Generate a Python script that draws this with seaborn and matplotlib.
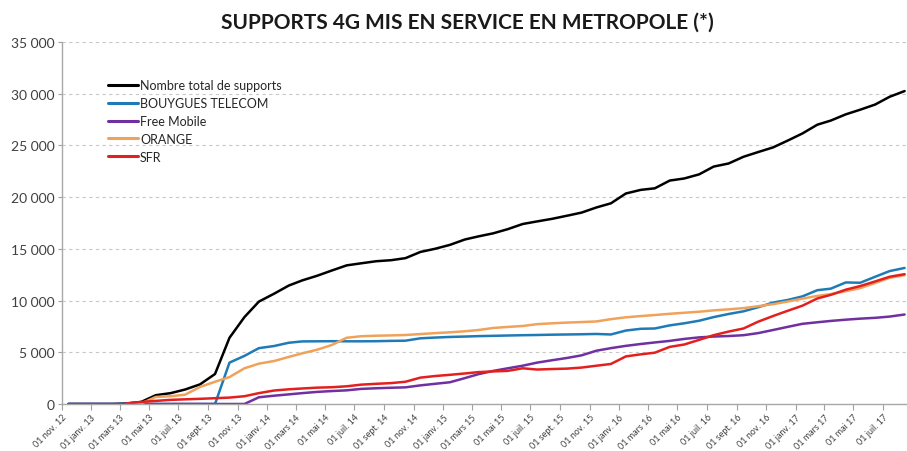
import numpy as np
import pandas as pd
import seaborn as sns
import matplotlib.pyplot as plt
from matplotlib.ticker import FuncFormatter

# Monthly readings (mid-month), Nov 2012 -> Aug 2017
DATES = pd.date_range("2012-11-01", "2017-08-01", freq="MS") + pd.Timedelta(days=14)

TOTAL = [0, 0, 0, 0, 50, 200, 850, 1050, 1400, 1900, 2900, 6400, 8400, 9900,
         10650, 11450, 11950, 12400, 12900, 13400, 13600, 13800, 13900, 14100,
         14700, 15000, 15380, 15900, 16200, 16500, 16900, 17400, 17650, 17900,
         18200, 18500, 19000, 19400, 20350, 20700, 20850, 21600, 21800, 22200,
         22950, 23250, 23900, 24350, 24800, 25450, 26150, 27000, 27400, 28000,
         28450, 28950, 29700, 30250]
BOUYGUES = [0, 0, 0, 0, 0, 0, 0, 0, 0, 0, 0, 4000, 4650, 5400, 5600, 5920,
            6050, 6060, 6070, 6060, 6060, 6070, 6100, 6120, 6350, 6420, 6480,
            6520, 6560, 6590, 6620, 6650, 6670, 6700, 6720, 6740, 6770, 6720,
            7100, 7270, 7300, 7600, 7800, 8050, 8400, 8700, 8960, 9350, 9800,
            10050, 10400, 11000, 11150, 11750, 11720, 12300, 12850, 13150]
FREE = [0, 0, 0, 0, 0, 0, 0, 0, 0, 0, 0, 0, 0, 650, 800, 930, 1050, 1170,
        1250, 1320, 1460, 1520, 1570, 1610, 1800, 1950, 2100, 2500, 2880, 3200,
        3450, 3700, 4000, 4230, 4450, 4700, 5150, 5400, 5620, 5800, 5950, 6100,
        6290, 6440, 6520, 6570, 6650, 6850, 7150, 7450, 7750, 7900, 8030, 8150,
        8250, 8330, 8450, 8650]
ORANGE = [np.nan, np.nan, np.nan, np.nan, 0, 50, 680, 750, 900, 1650, 2150,
          2600, 3450, 3900, 4150, 4550, 4900, 5250, 5700, 6400, 6550, 6600,
          6630, 6670, 6760, 6850, 6930, 7030, 7150, 7350, 7450, 7540, 7720,
          7800, 7870, 7920, 7980, 8200, 8380, 8500, 8600, 8720, 8820, 8920,
          9050, 9150, 9270, 9450, 9650, 9900, 10180, 10450, 10620, 10900,
          11200, 11700, 12200, 12450]
SFR = [np.nan, np.nan, np.nan, np.nan, 50, 200, 300, 400, 450, 500, 560, 620,
       750, 1050, 1300, 1420, 1500, 1580, 1620, 1710, 1870, 1950, 2020, 2150,
       2550, 2700, 2820, 2950, 3080, 3150, 3200, 3450, 3330, 3380, 3420, 3520,
       3700, 3870, 4600, 4800, 4960, 5520, 5750, 6200, 6650, 7000, 7300, 7950,
       8500, 9000, 9500, 10200, 10550, 11050, 11400, 11850, 12300, 12550]

SERIES = ["Nombre total de supports", "BOUYGUES TELECOM", "Free Mobile", "ORANGE", "SFR"]
COLORS = ["#000000", "#1f7bb6", "#7030a0", "#f0a25a", "#e3201e"]

TICK_DATES = pd.date_range("2012-11-01", "2017-07-01", freq="2MS")
MONTHS_FR = {1: "janv.", 3: "mars", 5: "mai", 7: "juil.", 9: "sept.", 11: "nov."}
TICK_LABELS = [f"01 {MONTHS_FR[d.month]} {d.year % 100:02d}" for d in TICK_DATES]


def main() -> None:
    wide = pd.DataFrame(
        {"date": DATES, SERIES[0]: TOTAL, SERIES[1]: BOUYGUES, SERIES[2]: FREE,
         SERIES[3]: ORANGE, SERIES[4]: SFR}
    )
    df = wide.melt(id_vars="date", var_name="serie", value_name="supports")

    sns.set_style("white")
    plt.rcParams["font.family"] = ["Lato", "DejaVu Sans"]

    fig = plt.figure(figsize=(9.07, 4.52), dpi=100)
    ax = fig.add_axes([0.068, 0.104, 0.932, 0.801])

    sns.lineplot(
        data=df, x="date", y="supports", hue="serie", hue_order=SERIES,
        palette=dict(zip(SERIES, COLORS)), linewidth=1.8, ax=ax,
    )

    ax.set_xlim(pd.Timestamp("2012-11-01"), pd.Timestamp("2017-08-20"))
    ax.set_ylim(0, 35000)
    ax.set_yticks(range(0, 35001, 5000))
    ax.yaxis.set_major_formatter(
        FuncFormatter(lambda v, _: f"{int(v):,}".replace(",", " "))
    )
    ax.set_xticks(TICK_DATES)
    ax.set_xticklabels(TICK_LABELS, rotation=45, ha="right",
                       rotation_mode="anchor", fontsize=6.5, color="#404040")
    ax.tick_params(axis="y", labelsize=10, colors="#404040", length=3,
                   color="#a0a0a0", left=True, pad=2)
    ax.tick_params(axis="x", length=4, color="#a0a0a0", bottom=True, pad=2)
    ax.set_xlabel("")
    ax.set_ylabel("")

    ax.yaxis.grid(True, linestyle=(0, (3, 3)), color="#c8c8c8", linewidth=0.8)
    for side in ("top", "right"):
        ax.spines[side].set_visible(False)
    for side in ("left", "bottom"):
        ax.spines[side].set_color("#a8a8a8")
        ax.spines[side].set_linewidth(1.0)

    handles, labels = ax.get_legend_handles_labels()
    for h in handles:
        h.set_linewidth(2.2)
    ax.legend(handles, labels, loc="upper left", bbox_to_anchor=(0.049, 0.911),
              frameon=False, fontsize=9, handlelength=2.4, handletextpad=0.15,
              labelspacing=0.47, borderaxespad=0)

    fig.suptitle("SUPPORTS 4G MIS EN SERVICE EN METROPOLE (*)", x=0.515, y=0.972,
                 fontsize=15, fontweight="bold", color="#1a1a1a")

    fig.savefig("out.png", dpi=100)


if __name__ == "__main__":
    main()
